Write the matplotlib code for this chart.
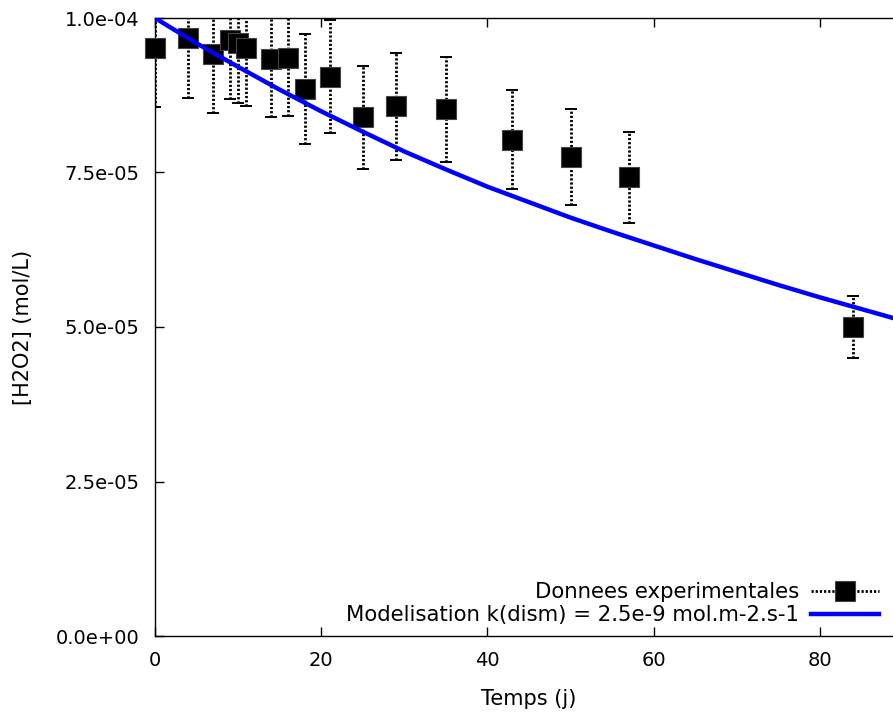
import matplotlib
matplotlib.use("Agg")
import matplotlib.pyplot as plt
from matplotlib.lines import Line2D
from matplotlib.ticker import FormatStrFormatter, MultipleLocator

# measured H2O2 concentration vs time (days)
t_exp = [0, 4, 7, 9, 10, 11, 14, 16, 18, 21, 25, 29, 35, 43, 50, 57, 84]
c_exp = [9.51e-5, 9.68e-5, 9.41e-5, 9.65e-5, 9.59e-5, 9.52e-5, 9.33e-5, 9.36e-5,
         8.85e-5, 9.05e-5, 8.39e-5, 8.57e-5, 8.52e-5, 8.03e-5, 7.75e-5, 7.42e-5,
         5.00e-5]
c_err = [0.95e-5, 0.97e-5, 0.94e-5, 0.96e-5, 0.96e-5, 0.95e-5, 0.93e-5, 0.94e-5,
         0.89e-5, 0.91e-5, 0.84e-5, 0.86e-5, 0.85e-5, 0.80e-5, 0.78e-5, 0.74e-5,
         0.50e-5]

# dismutation model, k = 2.5e-9 mol.m-2.s-1
t_mod = [0, 5, 10, 15, 20, 25, 30, 35, 40, 45, 50, 55, 60, 65, 70, 75, 80, 85, 90]
c_mod = [1.000e-4, 0.959e-4, 0.921e-4, 0.884e-4, 0.849e-4, 0.816e-4, 0.784e-4,
         0.755e-4, 0.727e-4, 0.702e-4, 0.677e-4, 0.654e-4, 0.632e-4, 0.610e-4,
         0.589e-4, 0.568e-4, 0.548e-4, 0.529e-4, 0.510e-4]

plt.rcParams['font.family'] = ['DejaVu Sans']
plt.rcParams['font.size'] = 14

fig = plt.figure(figsize=(8.93, 7.13), dpi=100)
ax = fig.add_axes([155/893, 1 - 636/713, 748/893, 618/713])

# error bars are clipped at the frame, the squares are not
eb = ax.errorbar(t_exp, c_exp, yerr=c_err, fmt='none', ecolor='black',
                 elinewidth=2.0, capsize=4.5, capthick=1.4, zorder=2)
eb[2][0].set_linestyle((0, (0.8, 0.7)))
ax.plot(t_exp, c_exp, ls='none', marker='s', ms=15, mfc='black',
        mec='#444444', mew=0.8, zorder=3, clip_on=False)

ax.plot(t_mod, c_mod, color='#0000ff', lw=3.2, zorder=4,
        solid_capstyle='butt', solid_joinstyle='round')

ax.set_xlim(0, 90)
ax.set_ylim(0, 1e-4)
ax.xaxis.set_major_locator(MultipleLocator(20))
ax.yaxis.set_major_locator(MultipleLocator(2.5e-5))
ax.yaxis.set_major_formatter(FormatStrFormatter('%.1e'))
ax.tick_params(direction='in', length=6.5, width=1, top=True, right=True,
               pad=11, labelsize=14, colors='black')
for sp in ax.spines.values():
    sp.set_linewidth(1.0)

ax.set_xlabel("Temps (j)", fontsize=15)
ax.set_ylabel("[H2O2] (mol/L)", fontsize=15)
ax.xaxis.set_label_coords(0.5, -0.086)
ax.yaxis.set_label_coords(-0.163, 0.5)

h_exp = Line2D([], [], color='black', ls=(0, (0.8, 0.7)), lw=2.0, marker='s',
               ms=15, mfc='black', mec='#444444', mew=0.8)
h_mod = Line2D([], [], color='#0000ff', lw=3.2)
fig.legend([h_exp, h_mod],
           ["Donnees experimentales", "Modelisation k(dism) = 2.5e-9 mol.m-2.s-1"],
           loc='lower right', bbox_to_anchor=(879/893, 1 - 625/713),
           frameon=False, markerfirst=False, borderpad=0, borderaxespad=0,
           handlelength=3.2, handletextpad=0.55, labelspacing=0.12,
           numpoints=1, fontsize=15.3)

fig.savefig("out.png", dpi=100)
